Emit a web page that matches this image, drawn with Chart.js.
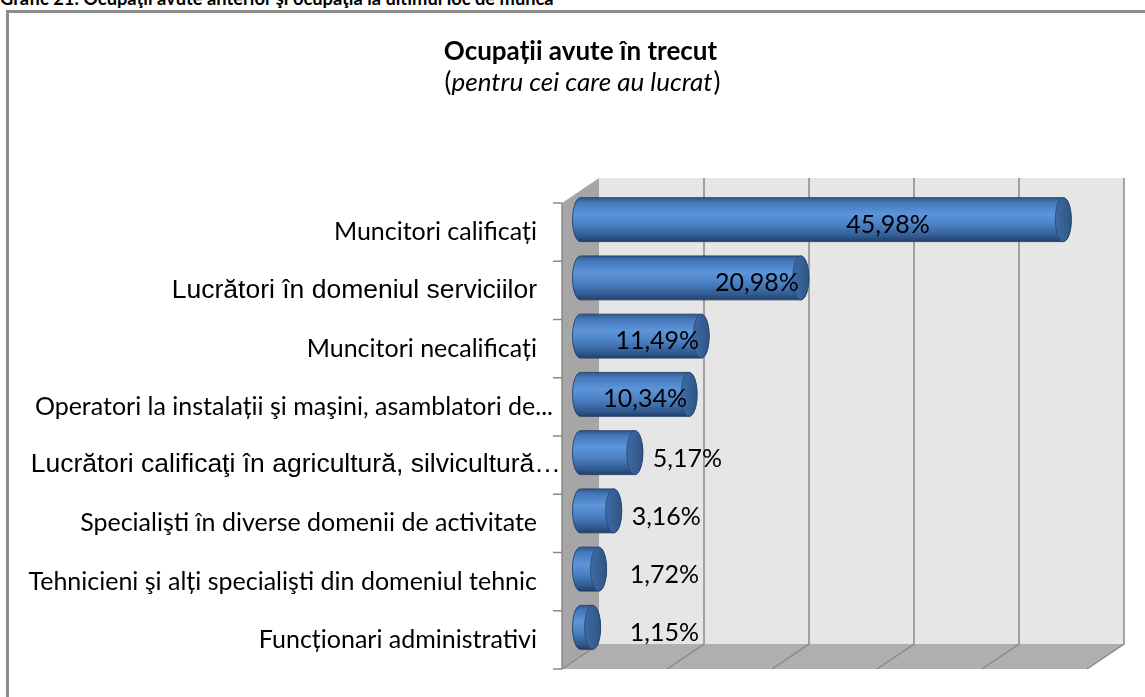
<!DOCTYPE html>
<html><head><meta charset="utf-8">
<script src="https://cdn.jsdelivr.net/npm/chart.js@4.4.1/dist/chart.umd.min.js"></script>
<style>
html,body{margin:0;padding:0;background:#fff;width:1145px;height:697px;overflow:hidden;position:relative}
#hdr{position:absolute;left:0;top:-13px;font:bold 18.3px Lato, sans-serif;color:#000;white-space:nowrap}
#frame{position:absolute;left:6px;top:10px;width:1200px;height:800px;border-left:3px solid #8c8c8c;border-top:3px solid #8c8c8c;box-sizing:border-box}
canvas{position:absolute;left:0;top:0}
</style></head><body>
<div id="hdr">Grafic 21. Ocupaţii avute anterior şi ocupaţia la ultimul loc de muncă</div>
<div id="frame"></div>
<canvas id="c" width="1145" height="697"></canvas>
<script>
const categories = [
  'Muncitori calificați',
  'Lucrători în domeniul serviciilor',
  'Muncitori necalificați',
  'Operatori la instalații şi maşini, asamblatori de...',
  'Lucrători calificaţi în agricultură, silvicultură…',
  'Specialişti în diverse domenii de activitate',
  'Tehnicieni şi alți specialişti din domeniul tehnic',
  'Funcționari administrativi'
];
const values = [45.98, 20.98, 11.49, 10.34, 5.17, 3.16, 1.72, 1.15];
const xTicks = [0, 10, 20, 30, 40, 50];
const titleText = 'Ocupații avute în trecut';
const subtitleText = 'pentru cei care au lucrat';
const arialLabels = [1, 4];

const DX = 18.5, DY = 12.5, RX = 8;
const fmt = v => v.toFixed(2).replace('.', ',') + '%';
const labelFont = i => arialLabels.includes(i)
  ? { family: 'Liberation Sans', size: 26.5 }
  : { family: 'Lato', size: 25 };

function poly(ctx, pts, fill) {
  ctx.beginPath();
  ctx.moveTo(pts[0][0], pts[0][1]);
  for (let i = 1; i < pts.length; i++) ctx.lineTo(pts[i][0], pts[i][1]);
  ctx.closePath();
  ctx.fillStyle = fill;
  ctx.fill();
}

// truncated labels: text body right-aligned, ellipsis overhanging (as in the original)
const ellipsisOverhang = {
  id: 'ellipsisOverhang',
  beforeDraw(chart) {
    const ys = chart.scales.y, ctx = chart.ctx;
    const items = ys.getLabelItems();
    items.forEach((it, i) => {
      if (it._shifted) return;
      const m = String(it.label).match(/(\.\.\.|…)$/);
      if (!m) return;
      const f = labelFont(i);
      ctx.save();
      ctx.font = f.size + 'px "' + f.family + '"';
      const w = ctx.measureText(m[1]).width;
      ctx.restore();
      it.options.translation[0] += w * 0.9;
      it._shifted = true;
    });
  }
};

const titles = {
  id: 'titles',
  afterDraw(chart) {
    const ctx = chart.ctx;
    ctx.save();
    ctx.fillStyle = '#000';
    ctx.textBaseline = 'middle';
    ctx.textAlign = 'center';
    ctx.font = 'bold 26px Lato, sans-serif';
    ctx.fillText(titleText, 580.5, 52);
    const fN = '26px Lato, sans-serif', fI = 'italic 26px Lato, sans-serif';
    ctx.font = fN; const wp = ctx.measureText('(').width, wq = ctx.measureText(')').width;
    ctx.font = fI; const wt = ctx.measureText(subtitleText).width;
    let x = 582 - (wp + wt + wq) / 2;
    ctx.textAlign = 'left';
    ctx.font = fN; ctx.fillText('(', x, 83); x += wp;
    ctx.font = fI; ctx.fillText(subtitleText, x, 83); x += wt + 1;
    ctx.font = fN; ctx.fillText(')', x, 83);
    ctx.restore();
  }
};

const threeD = {
  id: 'threeD',
  beforeDatasetsDraw(chart) {
    const ctx = chart.ctx, a = chart.chartArea, xs = chart.scales.x;
    const x0 = xs.getPixelForValue(xTicks[0]);
    const x1 = xs.getPixelForValue(xTicks[xTicks.length - 1]);
    ctx.save();
    ctx.fillStyle = '#e6e6e6';
    ctx.fillRect(x0 + DX, a.top - DY, x1 - x0, a.bottom - a.top);
    poly(ctx, [[x0 - DX, a.top + DY], [x0 + DX, a.top - DY], [x0 + DX, a.bottom - DY], [x0 - DX, a.bottom + DY]], '#a6a6a6');
    poly(ctx, [[x0 - DX, a.bottom + DY], [x1 - DX, a.bottom + DY], [x1 + DX, a.bottom - DY], [x0 + DX, a.bottom - DY]], '#afafaf');
    ctx.strokeStyle = '#8a8a8a';
    ctx.lineWidth = 1.5;
    xTicks.forEach((v, i) => {
      const p = xs.getPixelForValue(v);
      ctx.beginPath();
      if (i > 0) { ctx.moveTo(p + DX, a.top - DY); ctx.lineTo(p + DX, a.bottom - DY); }
      else ctx.moveTo(p + DX, a.bottom - DY);
      ctx.lineTo(p - DX, a.bottom + DY);
      ctx.stroke();
    });
    ctx.beginPath();
    ctx.moveTo(x0 - DX, a.top + DY);
    ctx.lineTo(x0 - DX, a.bottom + DY);
    const n = categories.length;
    for (let i = 0; i <= n; i++) {
      const yy = a.top + DY + i * (a.bottom - a.top) / n;
      ctx.moveTo(x0 - DX - 9, yy);
      ctx.lineTo(x0 - DX, yy);
    }
    ctx.stroke();
    ctx.restore();
  },
  afterDatasetsDraw(chart) {
    const ctx = chart.ctx, xs = chart.scales.x;
    const meta = chart.getDatasetMeta(0);
    ctx.save();
    meta.data.forEach((el, i) => {
      const p = el.getProps(['x', 'y', 'base', 'height'], true);
      const r = p.height / 2, rx = RX;
      const xb = p.base, xe = p.x, yc = p.y;
      const g = ctx.createLinearGradient(0, yc - r, 0, yc + r);
      g.addColorStop(0, '#2c5890');
      g.addColorStop(0.12, '#4679bb');
      g.addColorStop(0.38, '#5c95da');
      g.addColorStop(0.62, '#4b80c3');
      g.addColorStop(0.88, '#305a90');
      g.addColorStop(1, '#203f69');
      ctx.beginPath();
      ctx.moveTo(xb, yc - r);
      ctx.lineTo(xe, yc - r);
      ctx.ellipse(xe, yc, rx, r, 0, -Math.PI / 2, Math.PI / 2, false);
      ctx.lineTo(xb, yc + r);
      ctx.ellipse(xb, yc, rx, r, 0, Math.PI / 2, Math.PI * 1.5, false);
      ctx.closePath();
      ctx.fillStyle = g;
      ctx.fill();
      ctx.strokeStyle = 'rgba(30,55,95,0.8)';
      ctx.lineWidth = 1;
      ctx.stroke();
      const gc = ctx.createLinearGradient(xe - rx, 0, xe + rx, 0);
      gc.addColorStop(0, '#3f6ba3');
      gc.addColorStop(1, '#2f5586');
      ctx.beginPath();
      ctx.ellipse(xe, yc, rx, r, 0, 0, Math.PI * 2);
      ctx.fillStyle = gc;
      ctx.fill();
      ctx.strokeStyle = 'rgba(35,65,110,0.7)';
      ctx.stroke();
      const v = values[i];
      ctx.font = '25px Lato, sans-serif';
      ctx.fillStyle = '#000';
      ctx.textBaseline = 'middle';
      let lx, align, dy = 5;
      if (v >= 40) { lx = xs.getPixelForValue(v * 0.637); align = 'center'; }
      else if (v >= 10) { lx = xs.getPixelForValue(v) - 2; align = 'right'; }
      else {
        lx = Math.max(xe + rx + 10, xs.getPixelForValue(4.7));
        align = 'left';
        dy = 6;
      }
      ctx.textAlign = align;
      ctx.fillText(fmt(v), lx, yc + dy);
    });
    ctx.restore();
  }
};

new Chart(document.getElementById('c'), {
  type: 'bar',
  data: {
    labels: categories,
    datasets: [{
      data: values,
      backgroundColor: 'rgba(0,0,0,0)',
      borderWidth: 0,
      barPercentage: 0.755,
      categoryPercentage: 1
    }]
  },
  options: {
    indexAxis: 'y',
    responsive: false,
    animation: false,
    devicePixelRatio: 1,
    layout: { padding: { left: 0, right: 39.5, top: 190.5, bottom: 40.5 } },
    plugins: {
      legend: { display: false },
      tooltip: { enabled: false },
      title: { display: false },
      subtitle: { display: false }
    },
    scales: {
      x: { display: false, min: xTicks[0], max: xTicks[xTicks.length - 1] },
      y: {
        grid: { display: false, drawTicks: false },
        border: { display: false },
        afterFit: s => { s.width = 580.5; s.paddingTop = 0; s.paddingBottom = 0; },
        ticks: {
          padding: 43.5,
          labelOffset: 12.5,
          color: '#000',
          autoSkip: false,
          font: c => labelFont(c.index)
        }
      }
    }
  },
  plugins: [threeD, titles, ellipsisOverhang]
});
</script>
</body></html>
